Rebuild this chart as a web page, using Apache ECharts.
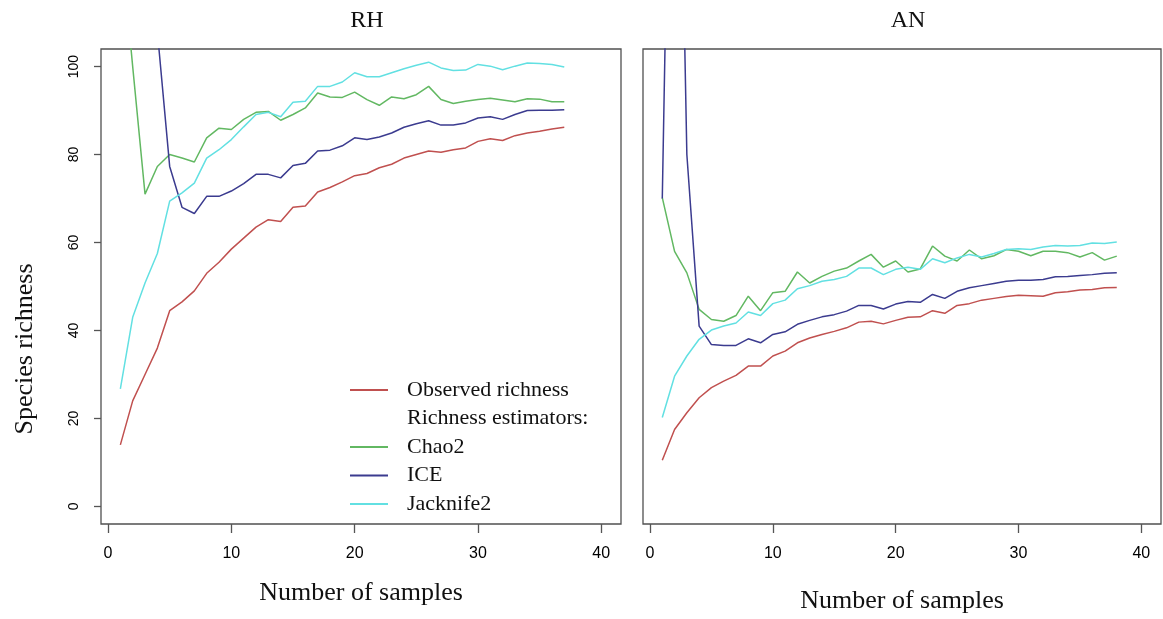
<!DOCTYPE html>
<html><head><meta charset="utf-8">
<script src="https://cdn.jsdelivr.net/npm/echarts@6/dist/echarts.min.js"></script>
<style>html,body{margin:0;padding:0;background:#fff}#c{width:1163px;height:619px}</style>
</head><body><div id="c"></div><script>
const panelTitles = ['RH', 'AN'];
const xAxisName = 'Number of samples';
const yAxisName = 'Species richness';
const legendNames = ['Observed richness', 'Richness estimators:', 'Chao2', 'ICE', 'Jacknife2'];
const xTicks = [0, 10, 20, 30, 40];
const yTicks = [0, 20, 40, 60, 80, 100];

const samplesRH = [1,2,3,4,5,6,7,8,9,10,11,12,13,14,15,16,17,18,19,20,21,22,23,24,25,26,27,28,29,30,31,32,33,34,35,36,37];
const observedRH = [14,24,30,36,44.5,46.5,49,53,55.5,58.5,61,63.5,65.2,64.8,68,68.3,71.5,72.5,73.8,75.2,75.7,77,77.8,79.2,80,80.8,80.5,81.1,81.5,83,83.6,83.2,84.3,84.9,85.3,85.8,86.2];
const chao2RH = [130,100,71,77.3,80,79.2,78.3,83.8,86,85.7,88,89.6,89.8,87.8,89.1,90.6,94,93.1,93,94.2,92.5,91.2,93.1,92.7,93.6,95.5,92.5,91.6,92.1,92.5,92.8,92.4,92,92.7,92.6,92,92];
const iceRH = [180,160,135,108,77.3,68,66.6,70.5,70.5,71.7,73.4,75.5,75.5,74.7,77.5,78,80.8,81,82,83.8,83.4,84,84.9,86.2,87,87.7,86.7,86.7,87.2,88.3,88.6,88,89.1,90,90.1,90.1,90.2];
const jack2RH = [26.7,43,50.8,57.5,69.4,71.3,73.5,79.2,81.1,83.4,86.3,89.1,89.6,88.6,91.9,92.1,95.5,95.5,96.5,98.6,97.7,97.7,98.6,99.5,100.3,101,99.7,99.1,99.2,100.5,100.1,99.3,100.1,100.8,100.7,100.5,99.9];

const samplesAN = [1,2,3,4,5,6,7,8,9,10,11,12,13,14,15,16,17,18,19,20,21,22,23,24,25,26,27,28,29,30,31,32,33,34,35,36,37,38];
const observedAN = [10.5,17.5,21.3,24.7,27,28.5,29.8,31.9,31.9,34.2,35.3,37.2,38.3,39.1,39.8,40.6,41.9,42.1,41.5,42.3,43,43.1,44.5,43.9,45.7,46.1,46.9,47.3,47.7,48,47.9,47.8,48.6,48.8,49.2,49.3,49.7,49.8];
const chao2AN = [70.2,58,53.1,44.8,42.5,42.1,43.4,47.8,44.5,48.6,48.9,53.3,50.8,52.3,53.5,54.2,55.8,57.3,54.4,55.8,53.3,54,59.2,56.9,55.8,58.3,56.3,57,58.4,58,57,58,58,57.7,56.7,57.7,56,56.9];
const iceAN = [70,225,80,41,36.8,36.6,36.6,38.1,37.2,39.1,39.7,41.4,42.3,43.1,43.6,44.4,45.7,45.7,44.9,46,46.6,46.4,48.2,47.3,48.9,49.7,50.2,50.7,51.2,51.4,51.4,51.6,52.2,52.3,52.5,52.7,53,53.1];
const jack2AN = [20.2,29.6,34.2,38,40.1,41,41.7,44.2,43.4,46.1,46.9,49.5,50.2,51.2,51.6,52.3,54.2,54.2,52.7,53.9,54.4,53.9,56.3,55.4,56.5,57.3,56.7,57.5,58.4,58.6,58.4,59,59.3,59.2,59.3,59.9,59.8,60.1];

const colors = {obs: '#c0504f', chao: '#62b862', ice: '#3b3b8f', jack: '#62e0e2'};
const serif = '"Liberation Serif", "DejaVu Serif", serif';
const sans = '"Liberation Sans", Arial, sans-serif';

function pairs(xs, ys) { return xs.map((x, i) => [x, ys[i]]); }

const chart = echarts.init(document.getElementById('c'), null, {renderer: 'canvas'});

const grids = [
  {left: 101, top: 49, width: 520, height: 475},
  {left: 643, top: 49, width: 518, height: 475}
];

function makeX(i, gap) {
  return {
    gridIndex: i, type: 'value', min: -0.57, max: 41.6,
    name: xAxisName, nameLocation: 'middle', nameGap: gap,
    nameTextStyle: {fontFamily: serif, fontSize: 26, color: '#111'},
    splitLine: {show: false}, axisLine: {show: false, onZero: false},
    axisTick: {show: true, inside: false, customValues: xTicks, length: 9, lineStyle: {color: '#555', width: 1.3}},
    axisLabel: {customValues: xTicks, margin: 22, fontFamily: sans, fontSize: 16, color: '#000'}
  };
}
function makeY(i, showTicks) {
  return {
    gridIndex: i, type: 'value', min: -4, max: 104,
    splitLine: {show: false}, axisLine: {show: false, onZero: false},
    axisTick: {show: showTicks, inside: false, customValues: yTicks, length: 7, lineStyle: {color: '#555', width: 1.3}},
    axisLabel: {show: showTicks, customValues: yTicks, rotate: 90, margin: 20, fontFamily: sans, fontSize: 14, color: '#000'}
  };
}

function line(name, xs, ys, color, idx) {
  return {
    name: name, type: 'line', xAxisIndex: idx, yAxisIndex: idx,
    data: pairs(xs, ys), showSymbol: false, clip: true, color: color,
    lineStyle: {color: color, width: 1.5}, silent: true
  };
}

const series = [
  line(legendNames[0], samplesRH, observedRH, colors.obs, 0),
  line(legendNames[2], samplesRH, chao2RH, colors.chao, 0),
  line(legendNames[3], samplesRH, iceRH, colors.ice, 0),
  line(legendNames[4], samplesRH, jack2RH, colors.jack, 0),
  line(legendNames[0], samplesAN, observedAN, colors.obs, 1),
  line(legendNames[2], samplesAN, chao2AN, colors.chao, 1),
  line(legendNames[3], samplesAN, iceAN, colors.ice, 1),
  line(legendNames[4], samplesAN, jack2AN, colors.jack, 1),
  {name: legendNames[1], type: 'line', xAxisIndex: 0, yAxisIndex: 0, data: [], color: 'rgba(0,0,0,0)', lineStyle: {color: 'rgba(0,0,0,0)'}}
];

chart.setOption({
  animation: false,
  backgroundColor: '#fff',
  title: [
    {text: panelTitles[0], left: 362, top: 4, textAlign: 'center', textStyle: {fontFamily: serif, fontSize: 24, fontWeight: 'normal', color: '#111'}},
    {text: panelTitles[1], left: 903, top: 4, textAlign: 'center', textStyle: {fontFamily: serif, fontSize: 24, fontWeight: 'normal', color: '#111'}}
  ],
  grid: grids.map(g => Object.assign({show: true, borderColor: '#505050', borderWidth: 1.3, backgroundColor: 'transparent'}, g)),
  xAxis: [makeX(0, 56), makeX(1, 64)],
  yAxis: [makeY(0, true), makeY(1, false)],
  legend: {
    data: legendNames, orient: 'vertical', left: 350, top: 379, padding: 0,
    icon: 'rect', itemWidth: 38, itemHeight: 2, itemGap: 6.5, selectedMode: false,
    textStyle: {fontFamily: serif, fontSize: 22, color: '#111', lineHeight: 21, padding: [0, 0, 0, 14]}
  },
  graphic: [
    {type: 'text', x: 25, y: 349, rotation: Math.PI / 2,
     style: {text: yAxisName, font: '26px ' + serif, fill: '#111', align: 'center', verticalAlign: 'middle'}}
  ],
  series: series
});
</script></body></html>
